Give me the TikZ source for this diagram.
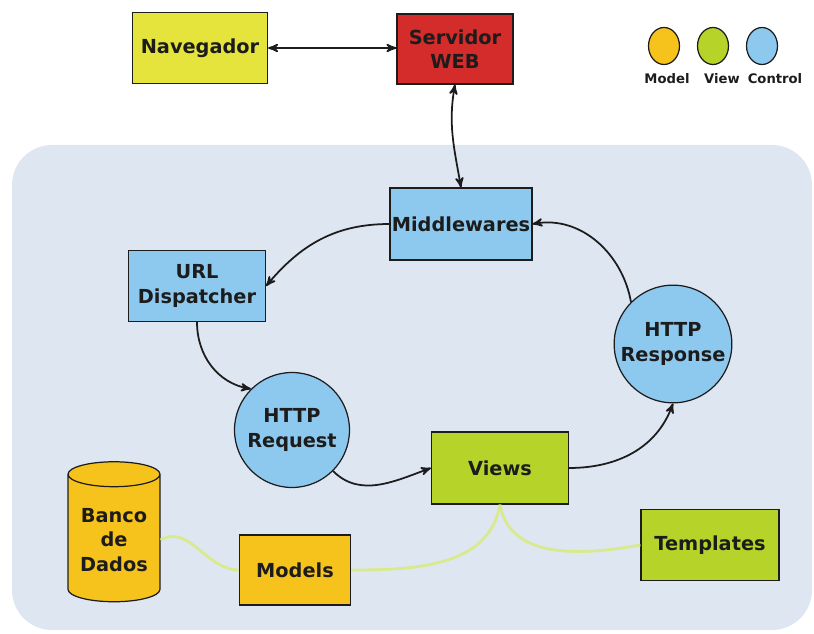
\documentclass[tikz,border=0pt]{standalone}
\usepackage{fontspec}
\setmainfont{DejaVu Sans}
\usetikzlibrary{arrows,shapes.geometric}

\definecolor{navyellow}{HTML}{E4E43C}
\definecolor{webred}{HTML}{D42B2B}
\definecolor{ctrlblue}{HTML}{8DC9EE}
\definecolor{viewgreen}{HTML}{B5D329}
\definecolor{modelorange}{HTML}{F6C31C}
\definecolor{linkgreen}{HTML}{D9EA8C}
\definecolor{bgblue}{HTML}{DEE6F2}
\definecolor{inkdark}{HTML}{1C1C1C}

\tikzset{
  box/.style={draw=inkdark, line width=0.7pt, text=inkdark, align=center,
    font=\fontsize{11}{14}\selectfont\bfseries, inner sep=1pt},
  ball/.style={box, circle, minimum size=2.3cm},
  flow/.style={->, >=stealth', line width=1pt, draw=inkdark},
  glue/.style={line width=1.6pt, draw=linkgreen},
  legend/.style={ellipse, draw=inkdark, line width=0.7pt, minimum width=0.62cm, minimum height=0.74cm},
  legtext/.style={font=\fontsize{7.5}{9}\selectfont\bfseries, text=inkdark}
}

\begin{document}
\begin{tikzpicture}[x=0.02cm, y=-0.02cm]
\useasboundingbox (0,0) rectangle (814,634);

% Background panel
\fill[bgblue, rounded corners=0.8cm] (12,145) rectangle (812,630);

% Top row
\node[box, fill=navyellow, minimum width=2.7cm, minimum height=1.42cm] (nav) at (200,48) {Navegador};
\node[box, fill=webred, minimum width=2.32cm, minimum height=1.4cm] (web) at (455,49) {Servidor\\WEB};

% Legend
\node[legend, fill=modelorange] (lmodel) at (664,46) {};
\node[legend, fill=viewgreen] (lview) at (713,46) {};
\node[legend, fill=ctrlblue] (lctrl) at (762,46) {};
\node[legtext] (tmodel) at (667,79) {Model};
\node[legtext] (tview) at (722,79) {View};
\node[legtext] (tctrl) at (775,79) {Control};

% Control nodes
\node[box, fill=ctrlblue, minimum width=2.78cm, minimum height=1.44cm] (mid) at (461,224) {Middlewares};
\node[box, fill=ctrlblue, minimum width=2.74cm, minimum height=1.42cm] (url) at (197,286) {URL\\Dispatcher};
\node[ball, fill=ctrlblue] (req) at (292,430) {HTTP\\Request};
\node[ball, fill=ctrlblue] (resp) at (673,344) {HTTP\\Response};

% View nodes
\node[box, fill=viewgreen, minimum width=2.74cm, minimum height=1.44cm] (views) at (500,468) {Views};
\node[box, fill=viewgreen, minimum width=2.76cm, minimum height=1.42cm] (tmpl) at (710,545) {Templates};

% Model nodes
\node[box, fill=modelorange, minimum width=2.22cm, minimum height=1.4cm] (models) at (295,570) {Models};
\node[box, fill=modelorange, cylinder, shape border rotate=90, aspect=0.35,
  minimum width=1.84cm, minimum height=2.8cm] (db) at (114,540) {Banco\\de\\Dados};

% Request cycle
\draw[flow, <->] (nav.east) -- (nav.east -| web.west);
\draw[flow, <->] (web.south) to[out=-100, in=100] (mid.north);
\draw[flow] (mid.west) to[out=180, in=50] (url.east);
\draw[flow] (url.south) to[out=-90, in=170] (req.north west);
\draw[flow] (req.south east) to[out=-45, in=200] (views.west);
\draw[flow] (views.east) to[out=0, in=-110] (resp.south);
\draw[flow] (resp.north west) to[out=100, in=10] (mid.east);

% Data links
\draw[glue] (db.east) to[out=30, in=180] (models.west);
\draw[glue] (models.east) to[out=0, in=-100] (views.south);
\draw[glue] (views.south) to[out=-80, in=190] (tmpl.west);

\end{tikzpicture}
\end{document}
